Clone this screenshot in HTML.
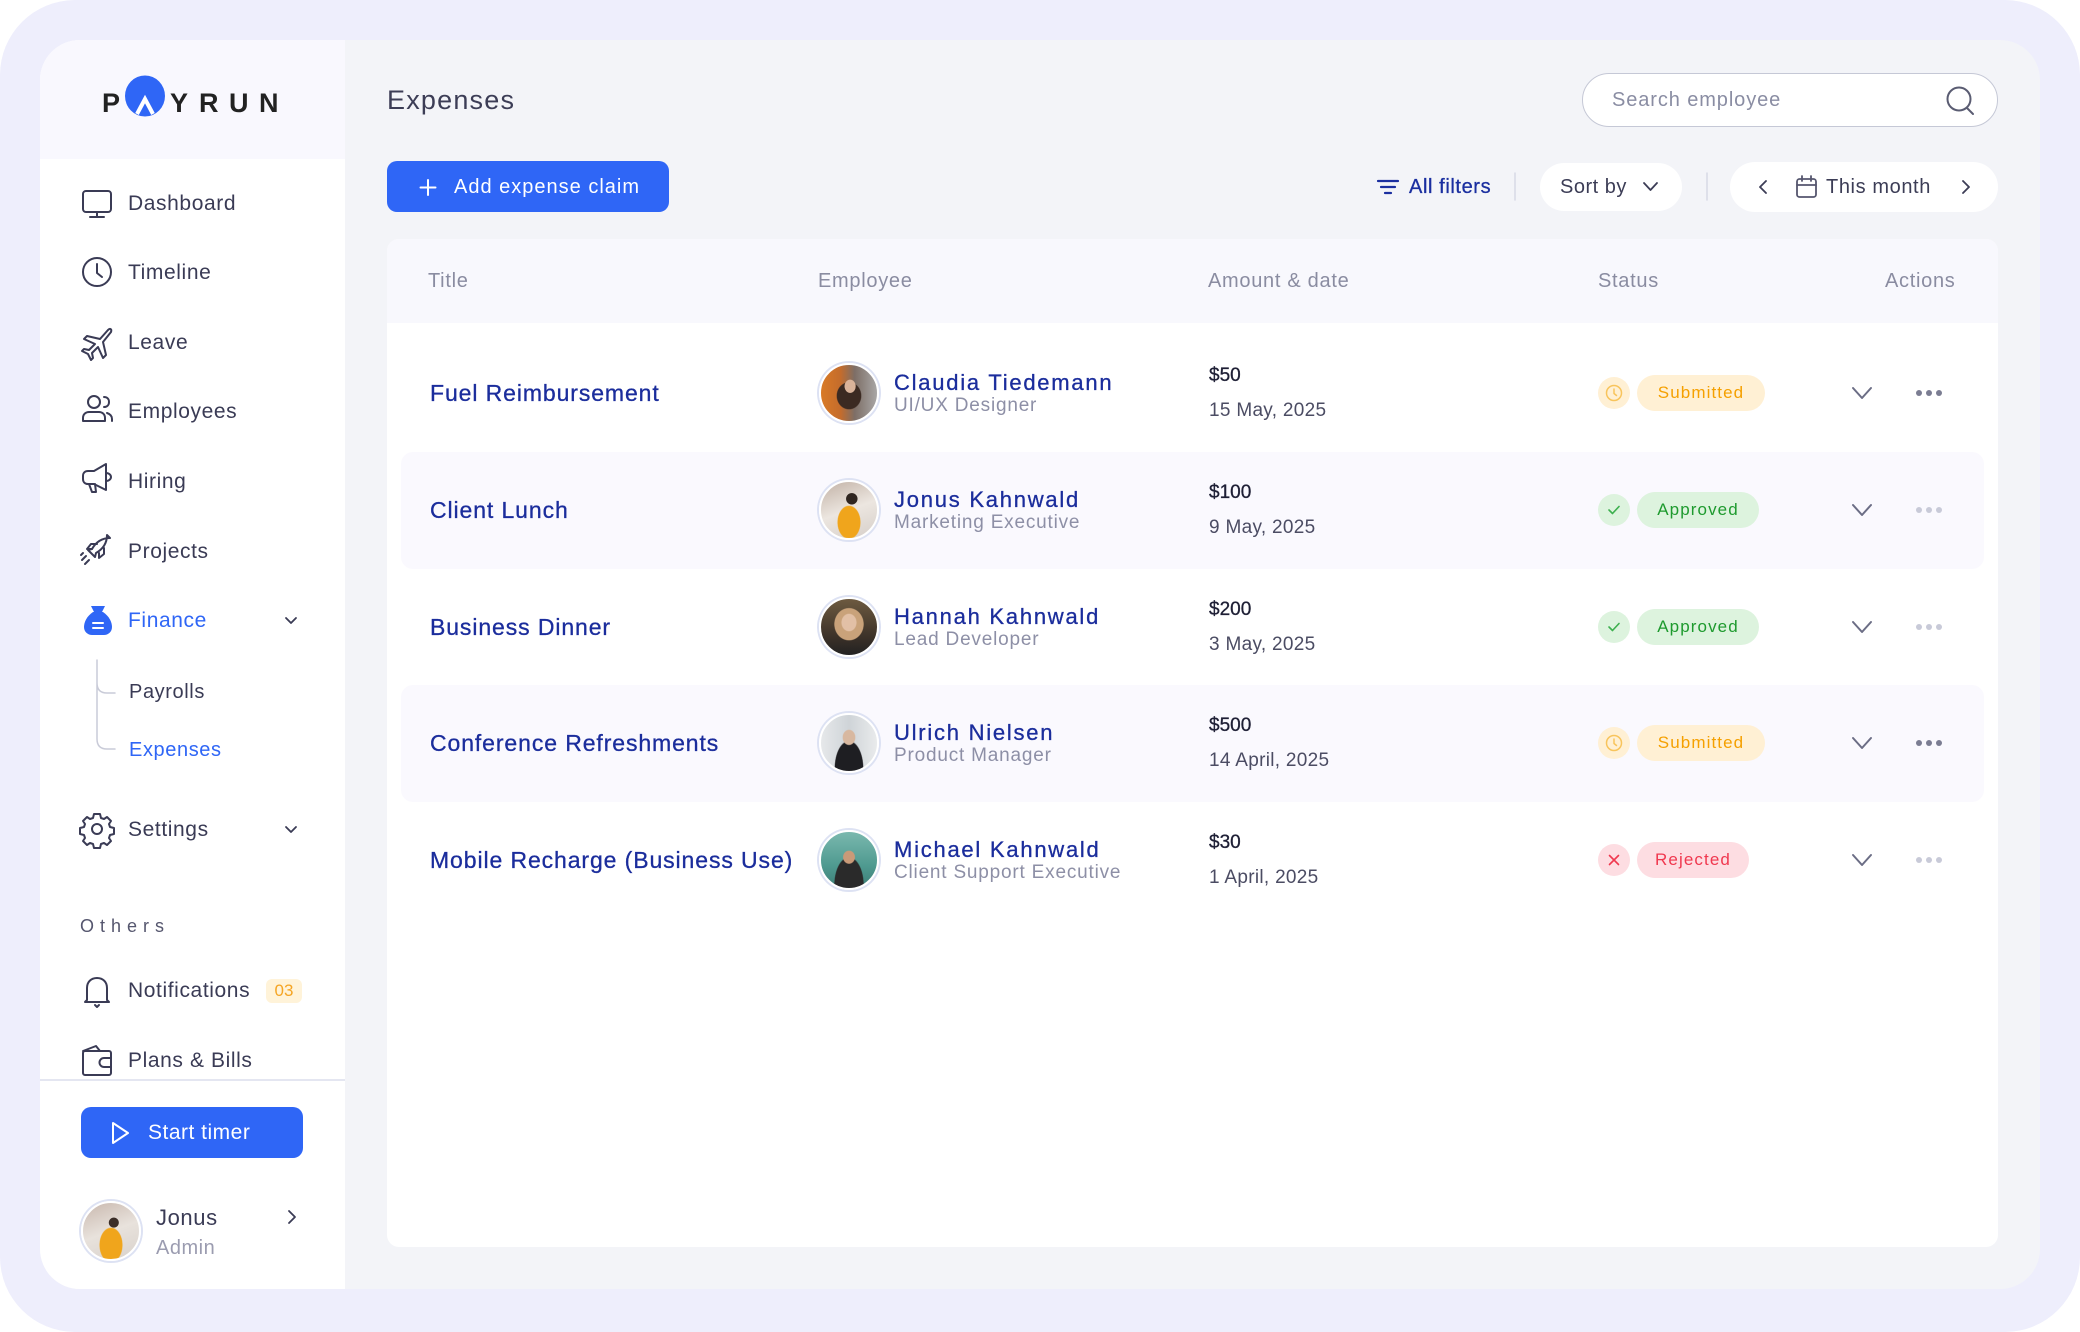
<!DOCTYPE html>
<html><head><meta charset="utf-8">
<style>
*{margin:0;padding:0;box-sizing:border-box}
html,body{width:2080px;height:1332px;overflow:hidden;background:#fff;font-family:"Liberation Sans",sans-serif}
.a{position:absolute}
.outer{position:absolute;left:0;top:0;width:2080px;height:1332px;border-radius:75px;background:#EEEEFC}
.app{position:absolute;left:40px;top:40px;width:2000px;height:1249px;border-radius:40px;background:#F3F4F8;overflow:hidden}
.side{position:absolute;left:0;top:0;width:305px;height:1249px;background:#fff}
.logoarea{position:absolute;left:0;top:0;width:305px;height:119px;background:#F9F8FE}
.t{position:absolute;white-space:nowrap;line-height:30px;height:30px}
.nav{font-size:21px;color:#3A3B55;letter-spacing:0.6px;left:128px}
.ico{position:absolute;overflow:visible}
.card{position:absolute;left:387px;top:239px;width:1611px;height:1008px;background:#fff;border-radius:12px;overflow:hidden}
.thead{position:absolute;left:0;top:0;width:1611px;height:84px;background:#F8F8FD}
.th{font-size:20px;color:#8A8CA1;letter-spacing:0.7px}
.alt{position:absolute;left:401px;width:1583px;height:117px;background:#FAF9FE;border-radius:12px}
.title{font-size:23px;color:#1B2D9C;letter-spacing:0.9px;left:430px;-webkit-text-stroke:0.3px #1B2D9C}
.name{font-size:22px;color:#1B2D9C;letter-spacing:1.75px;left:894px;-webkit-text-stroke:0.3px #1B2D9C}
.role{font-size:19px;color:#8D8FA6;letter-spacing:0.8px;left:894px}
.amt{font-size:19px;color:#1E1F35;left:1209px;-webkit-text-stroke:0.3px #1E1F35}
.date{font-size:19px;color:#4B4C63;left:1209px;letter-spacing:0.3px}
.av{position:absolute;left:819px;width:60px;height:60px;border-radius:50%;border:2px solid #fff;box-shadow:0 0 0 2px #DDE2F3}
.sc{position:absolute;left:1598px;width:32px;height:32px;border-radius:50%}
.badge{position:absolute;left:1637px;height:36px;border-radius:18px;font-size:17px;line-height:36px;text-align:center;letter-spacing:1.1px}
.sub{background:#FFF0D4;color:#F5A000}
.app2{background:#DDF3DE;color:#1E9A2E}
.rej{background:#FDDDE2;color:#F0384F}
</style></head><body>
<div class="outer"></div>
<div class="app">
  <div class="side"><div class="logoarea"></div>
    <div class="a" style="left:0;top:1039px;width:305px;height:2px;background:#E4E6F1"></div>
  </div>
</div>

<!-- Logo -->
<div class="t" style="left:102px;top:88px;font-size:27px;font-weight:bold;color:#222;line-height:30px">P</div>
<svg class="ico" style="left:0;top:0" width="300" height="160">
  <ellipse cx="145" cy="96" rx="20" ry="20.5" fill="#2F66F6"/>
  <polyline points="137,114 145,99 153,114" fill="none" stroke="#fff" stroke-width="4" stroke-linejoin="miter"/>
</svg>
<div class="t" style="left:170px;top:88px;font-size:27px;font-weight:bold;color:#222">Y</div>
<div class="t" style="left:199px;top:88px;font-size:27px;font-weight:bold;color:#222">R</div>
<div class="t" style="left:229px;top:88px;font-size:27px;font-weight:bold;color:#222">U</div>
<div class="t" style="left:259px;top:88px;font-size:27px;font-weight:bold;color:#222">N</div>

<!-- Sidebar icons -->
<svg class="ico" style="left:0;top:0" width="345" height="1332" fill="none" stroke="#3A3B55" stroke-width="2" stroke-linecap="round" stroke-linejoin="round">
  <rect x="83" y="191" width="28" height="21" rx="3"/>
  <path d="M97 212v5M90 217h14"/>
  <circle cx="97" cy="272" r="14"/>
  <path d="M97 264v9l5 4"/>
  <path d="M108 330c2-2 4-1 3 2l-8 10 3 13-3 3-5-11-6 6 1 5-2 2-3-6-6-3 2-2 5 1 6-6-11-5 3-3 13 3z"/>
  <circle cx="94" cy="402" r="6"/>
  <path d="M83 421v-3c0-4 3-6 6-6h10c3 0 6 2 6 6v3z"/>
  <path d="M104 397c3 0 5 2 5 5s-2 5-5 5M107 413c3 1 5 3 5 6v2"/>
  <path d="M83 476c0-3 2-5 5-5h6l12-7v26l-12-6h-6c-3 0-5-2-5-5z"/>
  <path d="M89 484l3 8h4l-1-8M106 473c3 0 5 2 5 4s-2 4-5 4"/>
  <path d="M110 538c-8 0-14 4-18 11l-4 1 7 7 1-4c7-4 11-10 11-18z"/>
  <path d="M92 549l-5 0 4-5h6M99 553l0 5 5-4v-6"/>
  <path d="M86 556l-4 4M89 560l-4 4M83 553l-2 2"/>
  <circle cx="97" cy="829" r="5"/>
  <path d="M94 814h6l1 4 3 1 3-2 4 4-2 3 1 3 4 1v6l-4 1-1 3 2 3-4 4-3-2-3 1-1 4h-6l-1-4-3-1-3 2-4-4 2-3-1-3-4-1v-6l4-1 1-3-2-3 4-4 3 2 3-1z"/>
  <path d="M87 1000v-12c0-6 4-10 10-10s10 4 10 10v12l2 2H85z"/>
  <path d="M95 1005l2 2 2-2"/>
  <rect x="83" y="1051" width="28" height="24" rx="2"/>
  <path d="M83 1051l13-5 4 5M111 1058h-7a4 4 0 0 0 0 9h7"/>
  <path d="M286 618l5 5 5-5" stroke-width="1.8"/>
  <path d="M286 827l5 5 5-5" stroke-width="1.8"/>
  <path d="M289 1211l6 6-6 6" stroke-width="1.8"/>
  <path d="M97 660V739q0 10 10 10h8M97 683q0 10 10 10h8" stroke="#C9CBD8" stroke-width="1.5"/>
</svg>
<svg class="ico" style="left:0;top:0" width="200" height="700">
  <path d="M91 606h14l-3 6h-8z" fill="#2F66F6"/>
  <path d="M93 612h10c6 4 9 10 9 15 0 5-4 8-8 8H92c-4 0-8-3-8-8 0-5 3-11 9-15z" fill="#2F66F6"/>
  <path d="M93 623h10M93 628h10" stroke="#fff" stroke-width="2" stroke-linecap="round"/>
</svg>

<div class="t nav" style="top:189px">Dashboard</div>
<div class="t nav" style="top:258px">Timeline</div>
<div class="t nav" style="top:328px">Leave</div>
<div class="t nav" style="top:397px">Employees</div>
<div class="t nav" style="top:467px">Hiring</div>
<div class="t nav" style="top:537px">Projects</div>
<div class="t nav" style="top:606px;color:#2F66F6">Finance</div>
<div class="t nav" style="top:677px;left:129px;font-size:20px">Payrolls</div>
<div class="t nav" style="top:735px;left:129px;font-size:20px;color:#2F66F6">Expenses</div>
<div class="t nav" style="top:815px">Settings</div>
<div class="t" style="left:80px;top:911px;font-size:18px;color:#55566E;letter-spacing:6px">Others</div>
<div class="t nav" style="top:976px">Notifications</div>
<div class="a" style="left:266px;top:979px;width:36px;height:24px;border-radius:6px;background:#FFF3D9;color:#F5A524;font-size:17px;line-height:24px;text-align:center">03</div>
<div class="t nav" style="top:1046px">Plans &amp; Bills</div>

<!-- Start timer -->
<div class="a" style="left:81px;top:1107px;width:222px;height:51px;border-radius:10px;background:#2F66F6"></div>
<svg class="ico" style="left:0;top:0" width="200" height="1200"><path d="M113 1123v20l15-10z" fill="none" stroke="#fff" stroke-width="2" stroke-linejoin="round"/></svg>
<div class="t" style="left:148px;top:1118px;font-size:21px;color:#fff;letter-spacing:0.5px">Start timer</div>

<!-- user -->
<div class="av" style="left:81px;top:1201px;background:radial-gradient(circle at 55% 35%,#3a2d28 0 10%,transparent 11%),radial-gradient(ellipse at 50% 75%,#F0A51C 0 28%,transparent 30%),linear-gradient(160deg,#c9b8ae,#e8e2dc 50%,#d9d2cc)"></div>
<div class="t" style="left:156px;top:1203px;font-size:22px;color:#3A3B55;letter-spacing:0.6px">Jonus</div>
<div class="t" style="left:156px;top:1233px;font-size:20px;color:#9B9CB0;letter-spacing:0.5px">Admin</div>

<!-- main header -->
<div class="t" style="left:387px;top:85px;font-size:27px;color:#3C3D56;letter-spacing:1.2px">Expenses</div>
<div class="a" style="left:1582px;top:73px;width:416px;height:54px;border-radius:27px;background:#fff;border:1.5px solid #C5C8D6"></div>
<div class="t" style="left:1612px;top:85px;font-size:20px;color:#8A8DA3;letter-spacing:0.9px">Search employee</div>
<div class="a" style="left:387px;top:161px;width:282px;height:51px;border-radius:10px;background:#2F66F6"></div>
<div class="t" style="left:454px;top:172px;font-size:20px;color:#fff;letter-spacing:1px">Add expense claim</div>
<div class="t" style="left:1409px;top:172px;font-size:20px;color:#1B2FA0;letter-spacing:0.6px;-webkit-text-stroke:0.3px #1B2FA0">All filters</div>
<div class="a" style="left:1540px;top:163px;width:142px;height:48px;border-radius:24px;background:#fff"></div>
<div class="t" style="left:1560px;top:172px;font-size:20px;color:#3C3D56;letter-spacing:0.5px">Sort by</div>
<div class="a" style="left:1730px;top:162px;width:268px;height:50px;border-radius:25px;background:#fff"></div>
<div class="t" style="left:1826px;top:172px;font-size:20px;color:#3C3D56;letter-spacing:0.6px">This month</div>
<svg class="ico" style="left:0;top:0" width="2080" height="240" fill="none" stroke-linecap="round" stroke-linejoin="round">
  <circle cx="1959" cy="99" r="11.5" stroke="#5A5C72" stroke-width="2"/>
  <path d="M1967 108l6 6" stroke="#5A5C72" stroke-width="2"/>
  <path d="M428 180v15M420.5 187.5h15" stroke="#fff" stroke-width="2"/>
  <path d="M1378 181h20M1381 187h14M1385 193h6" stroke="#1B2FA0" stroke-width="2.2"/>
  <path d="M1515 173v27M1707 173v27" stroke="#D8DAE6" stroke-width="1.5"/>
  <path d="M1644 183l6.5 7 6.5-7" stroke="#3C3D56" stroke-width="1.8"/>
  <path d="M1766 181l-6 6 6 6M1963 181l6 6-6 6" stroke="#3C3D56" stroke-width="1.8"/>
  <rect x="1797" y="179" width="19" height="18" rx="2.5" stroke="#55566E" stroke-width="1.8"/>
  <path d="M1797 185h19M1802 176v5M1811 176v5" stroke="#55566E" stroke-width="1.8"/>
</svg>

<!-- card -->
<div class="card"><div class="thead"></div></div>
<div class="t th" style="left:428px;top:266px">Title</div>
<div class="t th" style="left:818px;top:266px">Employee</div>
<div class="t th" style="left:1208px;top:266px">Amount &amp; date</div>
<div class="t th" style="left:1598px;top:266px">Status</div>
<div class="t th" style="left:1885px;top:266px">Actions</div>

<div class="alt" style="top:452px"></div>
<div class="alt" style="top:685px"></div>

<!-- Row 1 R=393 -->
<div class="t title" style="top:378px">Fuel Reimbursement</div>
<div class="av" style="top:363px;background:radial-gradient(ellipse at 52% 38%,#d9b39a 0 13%,transparent 14%),radial-gradient(ellipse at 50% 55%,#3b2a22 0 30%,transparent 32%),linear-gradient(90deg,#d97a26 0%,#c46c2c 35%,#7d6e66 60%,#a9a7a6 100%)"></div>
<div class="t name" style="top:368px">Claudia Tiedemann</div>
<div class="t role" style="top:391px">UI/UX Designer</div>
<div class="t amt" style="top:361px">$50</div>
<div class="t date" style="top:396px">15 May, 2025</div>
<div class="sc" style="top:377px;background:#FFF0D4"></div>
<div class="badge sub" style="top:375px;width:128px">Submitted</div>

<!-- Row 2 R=510 -->
<div class="t title" style="top:495px">Client Lunch</div>
<div class="av" style="top:480px;background:radial-gradient(circle at 55% 30%,#2f2520 0 11%,transparent 12%),radial-gradient(ellipse at 50% 72%,#F0A51C 0 28%,transparent 30%),linear-gradient(160deg,#c2b2a6,#ece6e0 50%,#d6cfc9)"></div>
<div class="t name" style="top:485px">Jonus Kahnwald</div>
<div class="t role" style="top:508px">Marketing Executive</div>
<div class="t amt" style="top:478px">$100</div>
<div class="t date" style="top:513px">9 May, 2025</div>
<div class="sc" style="top:494px;background:#DDF3DE"></div>
<div class="badge app2" style="top:492px;width:122px">Approved</div>

<!-- Row 3 R=627 -->
<div class="t title" style="top:612px">Business Dinner</div>
<div class="av" style="top:597px;background:radial-gradient(ellipse at 50% 42%,#e2c0a6 0 18%,transparent 20%),radial-gradient(ellipse at 50% 45%,#c9a27a 0 36%,transparent 38%),linear-gradient(180deg,#6d5a40,#3a3028 70%,#222 100%)"></div>
<div class="t name" style="top:602px">Hannah Kahnwald</div>
<div class="t role" style="top:625px">Lead Developer</div>
<div class="t amt" style="top:595px">$200</div>
<div class="t date" style="top:630px">3 May, 2025</div>
<div class="sc" style="top:611px;background:#DDF3DE"></div>
<div class="badge app2" style="top:609px;width:122px">Approved</div>

<!-- Row 4 R=743 -->
<div class="t title" style="top:728px">Conference Refreshments</div>
<div class="av" style="top:713px;background:radial-gradient(ellipse at 50% 40%,#d8b8a0 0 15%,transparent 17%),radial-gradient(ellipse at 50% 95%,#1e1e22 0 35%,transparent 37%),linear-gradient(90deg,#e6e8ea,#cfd4d8 50%,#e9ebec)"></div>
<div class="t name" style="top:718px">Ulrich Nielsen</div>
<div class="t role" style="top:741px">Product Manager</div>
<div class="t amt" style="top:711px">$500</div>
<div class="t date" style="top:746px">14 April, 2025</div>
<div class="sc" style="top:727px;background:#FFF0D4"></div>
<div class="badge sub" style="top:725px;width:128px">Submitted</div>

<!-- Row 5 R=860 -->
<div class="t title" style="top:845px">Mobile Recharge (Business Use)</div>
<div class="av" style="top:830px;background:radial-gradient(ellipse at 50% 45%,#c99a78 0 14%,transparent 16%),radial-gradient(ellipse at 50% 95%,#2a2a2a 0 36%,transparent 38%),linear-gradient(180deg,#7ab8ae,#4f9a90 60%,#3d7f77)"></div>
<div class="t name" style="top:835px">Michael Kahnwald</div>
<div class="t role" style="top:858px">Client Support Executive</div>
<div class="t amt" style="top:828px">$30</div>
<div class="t date" style="top:863px">1 April, 2025</div>
<div class="sc" style="top:844px;background:#FDDDE2"></div>
<div class="badge rej" style="top:842px;width:112px">Rejected</div>

<svg class="ico" style="left:0;top:0" width="2080" height="1000" fill="none" stroke-linecap="round" stroke-linejoin="round">
  <circle cx="1614" cy="393" r="7.5" stroke="#F8C45C" stroke-width="1.5"/><path d="M1614 389v4.5l2.5 2" stroke="#F8C45C" stroke-width="1.5"/>
  <path d="M1609 510l3.5 3.5 6.5-7" stroke="#3DB04F" stroke-width="1.6"/>
  <path d="M1609 627l3.5 3.5 6.5-7" stroke="#3DB04F" stroke-width="1.6"/>
  <circle cx="1614" cy="743" r="7.5" stroke="#F8C45C" stroke-width="1.5"/><path d="M1614 739v4.5l2.5 2" stroke="#F8C45C" stroke-width="1.5"/>
  <path d="M1609.5 855.5l9 9M1618.5 855.5l-9 9" stroke="#F0384F" stroke-width="1.6"/>
  <g stroke="#6B6D85" stroke-width="2">
    <path d="M1853 388l9 10 9-10"/><path d="M1853 505l9 10 9-10"/><path d="M1853 622l9 10 9-10"/><path d="M1853 738l9 10 9-10"/><path d="M1853 855l9 10 9-10"/>
  </g>
  <g stroke="none">
    <g fill="#7B7D92"><circle cx="1919" cy="393" r="3"/><circle cx="1929" cy="393" r="3"/><circle cx="1939" cy="393" r="3"/>
      <circle cx="1919" cy="743" r="3"/><circle cx="1929" cy="743" r="3"/><circle cx="1939" cy="743" r="3"/></g>
    <g fill="#C8CAD8"><circle cx="1919" cy="510" r="3"/><circle cx="1929" cy="510" r="3"/><circle cx="1939" cy="510" r="3"/>
      <circle cx="1919" cy="627" r="3"/><circle cx="1929" cy="627" r="3"/><circle cx="1939" cy="627" r="3"/>
      <circle cx="1919" cy="860" r="3"/><circle cx="1929" cy="860" r="3"/><circle cx="1939" cy="860" r="3"/></g>
  </g>
</svg>
</body></html>
